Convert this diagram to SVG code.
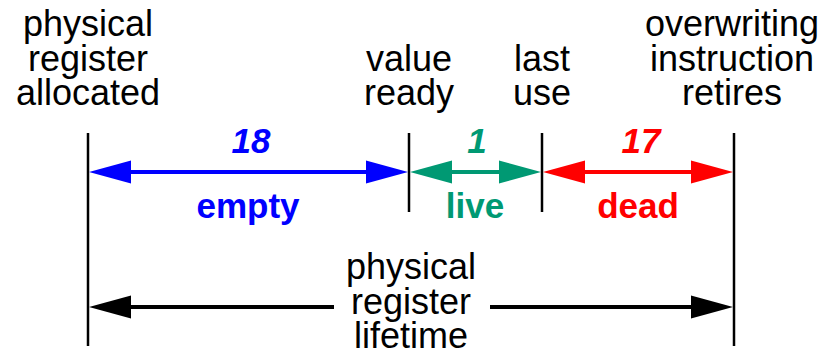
<svg xmlns="http://www.w3.org/2000/svg" width="826" height="350" viewBox="0 0 826 350">
<style>
.lbl{font-family:"Liberation Sans",Arial,Helvetica,sans-serif;font-size:36px;fill:#000;text-anchor:middle}
.num{font-family:"Liberation Sans",Arial,Helvetica,sans-serif;font-size:35px;font-weight:bold;font-style:italic;text-anchor:middle}
.bld{font-family:"Liberation Sans",Arial,Helvetica,sans-serif;font-size:35px;font-weight:bold;text-anchor:middle}
.tick{stroke:#000;stroke-width:2.5;fill:none}
.shaft{stroke-width:4;fill:none}
.blue{fill:#0000FF;stroke:#0000FF}
.green{fill:#009973;stroke:#009973}
.red{fill:#FF0000;stroke:#FF0000}
.black{fill:#000;stroke:#000}
polygon{stroke:none}
</style>
<rect width="826" height="350" fill="#fff"/>
<g id="ticks">
<line class="tick" x1="88" y1="133" x2="88" y2="346"/>
<line class="tick" x1="409" y1="133" x2="409" y2="212"/>
<line class="tick" x1="542" y1="133" x2="542" y2="212"/>
<line class="tick" x1="734" y1="133" x2="734" y2="346"/>
</g>
<g id="connectors">
<g class="blue">
<line class="shaft" x1="128" y1="172" x2="370" y2="172"/>
<polygon points="89,172 131,160.5 131,183.5"/>
<polygon points="408,172 366,160.5 366,183.5"/>
</g>
<g class="green">
<line class="shaft" x1="448" y1="172" x2="503" y2="172"/>
<polygon points="410,172 452,160.5 452,183.5"/>
<polygon points="541,172 499,160.5 499,183.5"/>
</g>
<g class="red">
<line class="shaft" x1="581" y1="172" x2="696" y2="172"/>
<polygon points="543,172 585,160.5 585,183.5"/>
<polygon points="733,172 691,160.5 691,183.5"/>
</g>
<g class="black">
<line class="shaft" x1="127" y1="307" x2="334" y2="307"/>
<line class="shaft" x1="490" y1="307" x2="696" y2="307"/>
<polygon points="89,307 131,295.5 131,318.5"/>
<polygon points="733,307 691,295.5 691,318.5"/>
</g>
</g>
<g id="allocated">
<text class="lbl" x="88" y="36">physical</text>
<text class="lbl" x="88" y="70.5">register</text>
<text class="lbl" x="88" y="105">allocated</text>
</g>
<g id="value-ready">
<text class="lbl" x="409" y="70.5">value</text>
<text class="lbl" x="409" y="105">ready</text>
</g>
<g id="last-use">
<text class="lbl" x="542" y="70.5">last</text>
<text class="lbl" x="542" y="105">use</text>
</g>
<g id="retires">
<text class="lbl" x="732" y="36">overwriting</text>
<text class="lbl" x="732" y="70.5">instruction</text>
<text class="lbl" x="732" y="105">retires</text>
</g>
<g id="empty">
<text class="num" x="251" y="153" fill="#0000FF">18</text>
<text class="bld" x="248" y="218" fill="#0000FF">empty</text>
</g>
<g id="live">
<text class="num" x="477" y="153" fill="#009973">1</text>
<text class="bld" x="475" y="218" fill="#009973">live</text>
</g>
<g id="dead">
<text class="num" x="641" y="153" fill="#FF0000">17</text>
<text class="bld" x="638" y="218" fill="#FF0000">dead</text>
</g>
<g id="lifetime">
<text class="lbl" x="411" y="279">physical</text>
<text class="lbl" x="411" y="313.5">register</text>
<text class="lbl" x="411" y="348">lifetime</text>
</g>
</svg>
